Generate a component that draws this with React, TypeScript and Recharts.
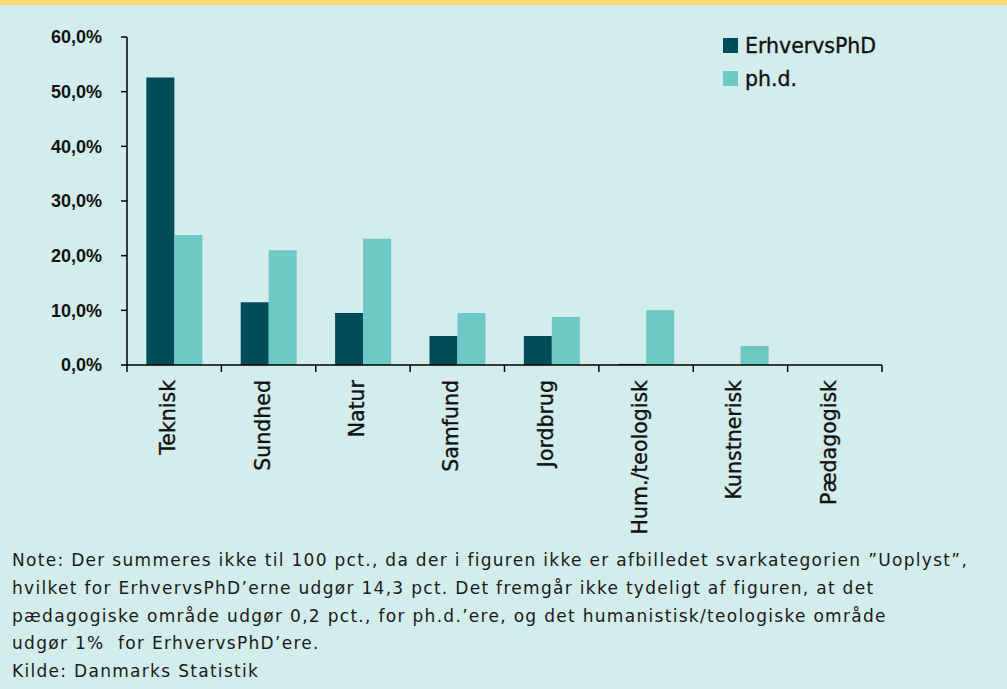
import { Bar, BarChart, XAxis, YAxis } from "recharts";

const categories = [
  "Teknisk",
  "Sundhed",
  "Natur",
  "Samfund",
  "Jordbrug",
  "Hum./teologisk",
  "Kunstnerisk",
  "Pædagogisk",
];
const erhvervsPhd = [52.6, 11.5, 9.5, 5.3, 5.3, 0.2, 0, 0];
const phd = [23.8, 21.0, 23.1, 9.5, 8.8, 10.0, 3.5, 0];
const yTicks = [0, 10, 20, 30, 40, 50, 60];
const seriesNames = ["ErhvervsPhD", "ph.d."];

const noteLines = [
  "Note: Der summeres ikke til 100 pct., da der i figuren ikke er afbilledet svarkategorien ”Uoplyst”,",
  "hvilket for ErhvervsPhD’erne udgør 14,3 pct. Det fremgår ikke tydeligt af figuren, at det",
  "pædagogiske område udgør 0,2 pct., for ph.d.’ere, og det humanistisk/teologiske område",
  "udgør 1%  for ErhvervsPhD’ere.",
  "Kilde: Danmarks Statistik",
];

const data = categories.map((c, i) => ({
  name: c,
  erhverv: erhvervsPhd[i],
  phd: phd[i],
}));

const DARK = "#004c58";
const LIGHT = "#6dc8c6";
const BG = "#d3ecec";
const W = 1007;
const CHART_H = 540;
const PLOT_H = 328;
const MARGIN = { top: 37, right: 125, left: 0, bottom: 0 };
const BAND = (W - 127 - MARGIN.right) / categories.length;

const pct = (v: number) => `${v.toFixed(1).replace(".", ",")}%`;

function CategoryTick(props: any) {
  const { x, y, payload, index } = props;
  const half = payload?.offset || BAND / 2;
  const top = y - 8;
  return (
    <g>
      <line x1={x - half} x2={x - half} y1={top} y2={top + 7} stroke="#000" strokeWidth={1.5} />
      {index === categories.length - 1 && (
        <line x1={x + half} x2={x + half} y1={top} y2={top + 7} stroke="#000" strokeWidth={1.5} />
      )}
      <text
        transform={`translate(${x + 1},${top + 15}) rotate(-90)`}
        textAnchor="end"
        fontFamily="'DejaVu Sans', sans-serif"
        fontSize={20.5}
        fill="#111"
        stroke="#111"
        strokeWidth={0.35}
      >
        {payload.value}
      </text>
    </g>
  );
}

function LegendBox() {
  const colors = [DARK, LIGHT];
  return (
    <div
      style={{
        position: "absolute",
        left: 723,
        top: 29,
        fontFamily: "'DejaVu Sans', sans-serif",
        fontSize: 20.5,
        color: "#111",
        WebkitTextStroke: "0.35px #111",
      }}
    >
      {seriesNames.map((label, i) => (
        <div key={label} style={{ display: "flex", alignItems: "center", height: 33 }}>
          <span style={{ width: 15, height: 15, background: colors[i], marginRight: 7 }} />
          <span>{label}</span>
        </div>
      ))}
    </div>
  );
}

export default function App() {
  return (
    <div
      style={{
        position: "absolute",
        left: 0,
        top: 0,
        width: W,
        height: 689,
        background: BG,
        overflow: "hidden",
      }}
    >
      <div style={{ height: 5, background: "#f9d67a" }} />
      <div style={{ position: "absolute", left: 0, top: 0 }}>
        <BarChart
          width={W}
          height={CHART_H}
          data={data}
          margin={MARGIN}
          barCategoryGap="20.5%"
          barGap={0}
        >
          <XAxis
            dataKey="name"
            height={CHART_H - MARGIN.top - PLOT_H}
            interval={0}
            axisLine={{ stroke: "#000", strokeWidth: 1.5 }}
            tickLine={false}
            tick={<CategoryTick />}
          />
          <YAxis
            width={127}
            domain={[0, 60]}
            ticks={yTicks}
            tickFormatter={pct}
            tickSize={6}
            tickMargin={19}
            axisLine={{ stroke: "#000", strokeWidth: 1.5 }}
            tickLine={{ stroke: "#000", strokeWidth: 1.5 }}
            tick={{
              fill: "#111",
              fontSize: 18,
              fontWeight: 700,
              fontFamily: "'Liberation Sans', Arial, sans-serif",
            }}
          />
          <Bar dataKey="erhverv" name={seriesNames[0]} fill={DARK} isAnimationActive={false} />
          <Bar dataKey="phd" name={seriesNames[1]} fill={LIGHT} isAnimationActive={false} />
        </BarChart>
      </div>
      <LegendBox />
      <div
        style={{
          position: "absolute",
          left: 12,
          top: 547,
          fontFamily: "'DejaVu Sans', sans-serif",
          fontSize: 17,
          letterSpacing: "1.3px",
          lineHeight: "27.8px",
          color: "#1a1a1a",
          whiteSpace: "pre",
        }}
      >
        {noteLines.map((l) => (
          <div key={l}>{l}</div>
        ))}
      </div>
    </div>
  );
}
